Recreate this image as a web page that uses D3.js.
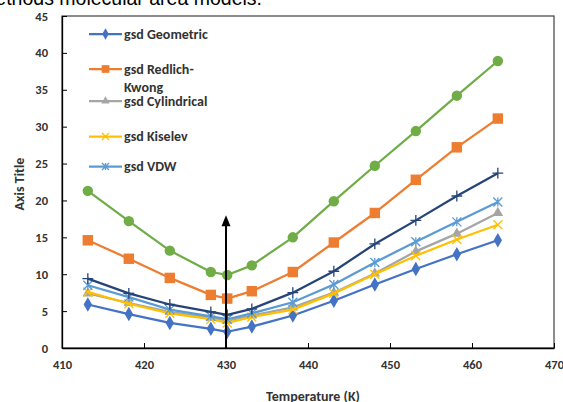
<!DOCTYPE html>
<html>
<head>
<meta charset="utf-8">
<script src="https://cdn.jsdelivr.net/npm/d3@7"></script>
<style>
  html, body { margin: 0; padding: 0; background: #fff; overflow: hidden; }
  svg { display: block; }
  .tick-label { font-family: Carlito, Calibri, Lato, sans-serif; font-weight: bold; font-size: 12.5px; fill: #333; }
  .legend-text { font-family: Carlito, Calibri, Lato, sans-serif; font-weight: bold; font-size: 14px; fill: #333; }
</style>
</head>
<body>
<svg id="chart" width="563" height="402"></svg>
<script>
// temperatures (K)
var temps = [413.15, 418.15, 423.15, 428.15, 430.15, 433.15, 438.15, 443.15, 448.15, 453.15, 458.15, 463.15];

// series values
var gsdGeometric   = [5.9, 4.6, 3.4, 2.6, 2.2, 2.9, 4.4, 6.4, 8.6, 10.7, 12.7, 14.6];
var gsdRedlich     = [14.6, 12.1, 9.5, 7.2, 6.7, 7.7, 10.3, 14.3, 18.3, 22.8, 27.2, 31.1];
var gsdCylindrical = [7.4, 6.1, 4.9, 4.1, 3.7, 4.4, 5.5, 7.5, 10.1, 13.1, 15.5, 18.3];
var gsdKiselev     = [7.6, 6.0, 4.7, 3.9, 3.4, 4.2, 5.2, 7.4, 10.0, 12.5, 14.7, 16.7];
var gsdVDW         = [8.5, 6.9, 5.2, 4.3, 3.9, 4.7, 6.2, 8.6, 11.6, 14.4, 17.1, 19.8];
var gsdGreen       = [21.3, 17.2, 13.2, 10.3, 9.9, 11.2, 15.0, 19.9, 24.7, 29.4, 34.2, 38.9];
var gsdNavy        = [9.4, 7.4, 5.9, 4.9, 4.5, 5.3, 7.5, 10.4, 14.1, 17.3, 20.6, 23.7];

var xTicks = [410, 420, 430, 440, 450, 460, 470];
var yTicks = [0, 5, 10, 15, 20, 25, 30, 35, 40, 45];

// arrow marking 430 K
var arrowX = 430;
var arrowTop = 18;

var series = [
  { name: 'gsd Geometric',   values: gsdGeometric,   color: '#4472C4', marker: 'diamond',  legend: true },
  { name: 'gsd Redlich-',    name2: 'Kwong', values: gsdRedlich, color: '#ED7D31', marker: 'square', legend: true },
  { name: 'gsd Cylindrical', values: gsdCylindrical, color: '#A5A5A5', marker: 'triangle', legend: true },
  { name: 'gsd Kiselev',     values: gsdKiselev,     color: '#FFC000', marker: 'x',        legend: true },
  { name: 'gsd VDW',         values: gsdVDW,         color: '#5B9BD5', marker: 'star',     legend: true },
  { name: 'green',           values: gsdGreen,       color: '#70AD47', marker: 'circle',   legend: false },
  { name: 'navy',            values: gsdNavy,        color: '#264478', marker: 'plus',     legend: false }
];

var margin = { left: 62, right: 9, top: 16, bottom: 54 };
var width = 563, height = 402;

var svg = d3.select('#chart');

var x = d3.scaleLinear().domain([410, 470]).range([margin.left, width - margin.right]);
var y = d3.scaleLinear().domain([0, 45]).range([height - margin.bottom, margin.top]);

// clipped caption text from the document above the chart
svg.append('text')
  .attr('x', 262).attr('y', 5)
  .attr('text-anchor', 'end')
  .style('font-family', 'Liberation Sans, Arial, sans-serif')
  .style('font-size', '19.5px')
  .attr('fill', '#000')
  .text('methods molecular area models.');

// plot frame
svg.append('rect')
  .attr('x', x(410)).attr('y', y(45))
  .attr('width', x(470) - x(410)).attr('height', y(0) - y(45))
  .attr('fill', 'none').attr('stroke', '#404040').attr('stroke-width', 1.2);

// y axis
var yAxis = svg.append('g').attr('transform', 'translate(' + x(410) + ',0)')
  .call(d3.axisLeft(y).tickValues(yTicks).tickSizeInner(-5).tickSizeOuter(0).tickPadding(14));
yAxis.select('.domain').attr('stroke', '#000').attr('stroke-width', 1.3);
yAxis.selectAll('.tick line').attr('stroke', '#000');
yAxis.selectAll('.tick text').attr('class', 'tick-label').attr('fill', null);

// x axis
var xAxis = svg.append('g').attr('transform', 'translate(0,' + y(0) + ')')
  .call(d3.axisBottom(x).tickValues(xTicks).tickSizeInner(-5).tickSizeOuter(0).tickPadding(12));
xAxis.select('.domain').attr('stroke', '#000').attr('stroke-width', 1.3);
xAxis.selectAll('.tick line').attr('stroke', '#000');
xAxis.selectAll('.tick text').attr('class', 'tick-label').attr('fill', null);

// axis titles
svg.append('text')
  .attr('transform', 'translate(24,' + 184 + ') rotate(-90)')
  .attr('text-anchor', 'middle')
  .attr('class', 'tick-label')
  .style('font-size', '14px')
  .text('Axis Title');

svg.append('text')
  .attr('x', 313).attr('y', 401)
  .attr('text-anchor', 'middle')
  .attr('class', 'tick-label')
  .style('font-size', '14px')
  .text('Temperature (K)');

// marker drawing
function drawMarker(g, type, color, s) {
  if (type === 'circle') {
    g.append('circle').attr('r', s * 0.55).attr('fill', color);
  } else if (type === 'square') {
    g.append('rect').attr('x', -s * 0.55).attr('y', -s * 0.55)
      .attr('width', s * 1.1).attr('height', s * 1.1).attr('fill', color);
  } else if (type === 'diamond') {
    g.append('path').attr('d', d3.symbol().type(d3.symbolDiamond).size(s * s * 0.75)).attr('fill', color);
  } else if (type === 'triangle') {
    g.append('path').attr('d', d3.symbol().type(d3.symbolTriangle).size(s * s * 0.6)).attr('fill', color);
  } else if (type === 'x') {
    var h = s * 0.5;
    g.append('path').attr('d', 'M' + -h + ',' + -h + 'L' + h + ',' + h + 'M' + h + ',' + -h + 'L' + -h + ',' + h)
      .attr('stroke', color).attr('stroke-width', 1.3).attr('fill', 'none');
  } else if (type === 'star') {
    var k = s * 0.5;
    g.append('path').attr('d', 'M' + -k + ',' + -k + 'L' + k + ',' + k + 'M' + k + ',' + -k + 'L' + -k + ',' + k + 'M0,' + -k + 'L0,' + k)
      .attr('stroke', color).attr('stroke-width', 1.3).attr('fill', 'none');
  } else if (type === 'plus') {
    var p = s * 0.6;
    g.append('path').attr('d', 'M' + -p + ',0L' + p + ',0M0,' + -p + 'L0,' + p)
      .attr('stroke', color).attr('stroke-width', 1.3).attr('fill', 'none');
  }
}

var line = d3.line()
  .x(function(d) { return x(d.t); })
  .y(function(d) { return y(d.v); });

var plot = svg.append('g');

series.forEach(function(s) {
  var pts = temps.map(function(t, i) { return { t: t, v: s.values[i] }; });
  var g = plot.append('g');
  g.append('path').datum(pts)
    .attr('d', line)
    .attr('fill', 'none')
    .attr('stroke', s.color)
    .attr('stroke-width', 2.25)
    .attr('stroke-linejoin', 'round');
  g.selectAll('.mk').data(pts).enter().append('g')
    .attr('class', 'mk')
    .attr('transform', function(d) { return 'translate(' + x(d.t) + ',' + y(d.v) + ')'; })
    .each(function() { drawMarker(d3.select(this), s.marker, s.color, s.marker === 'circle' || s.marker === 'square' ? 9.5 : 9); });
});

// arrow
svg.append('line')
  .attr('x1', x(arrowX)).attr('x2', x(arrowX))
  .attr('y1', y(0)).attr('y2', y(arrowTop) + 8)
  .attr('stroke', '#000').attr('stroke-width', 2);
svg.append('path')
  .attr('d', 'M' + x(arrowX) + ',' + y(arrowTop) + 'l-4.5,11l9,0z')
  .attr('fill', '#000');

// legend
var legendY = [34, 69, 101, 136.5, 166.5];
var legend = svg.append('g');
series.filter(function(s) { return s.legend; }).forEach(function(s, i) {
  var ly = legendY[i];
  var g = legend.append('g').attr('transform', 'translate(0,' + ly + ')');
  g.append('line').attr('x1', 89).attr('x2', 122).attr('y1', 0).attr('y2', 0)
    .attr('stroke', s.color).attr('stroke-width', 2.25);
  var m = g.append('g').attr('transform', 'translate(105.5,0)');
  drawMarker(m, s.marker, s.color, 7);
  g.append('text').attr('class', 'legend-text').attr('x', 124).attr('y', 4.5).text(s.name);
  if (s.name2) {
    g.append('text').attr('class', 'legend-text').attr('x', 124).attr('y', 22.5).text(s.name2);
  }
});
</script>
</body>
</html>
